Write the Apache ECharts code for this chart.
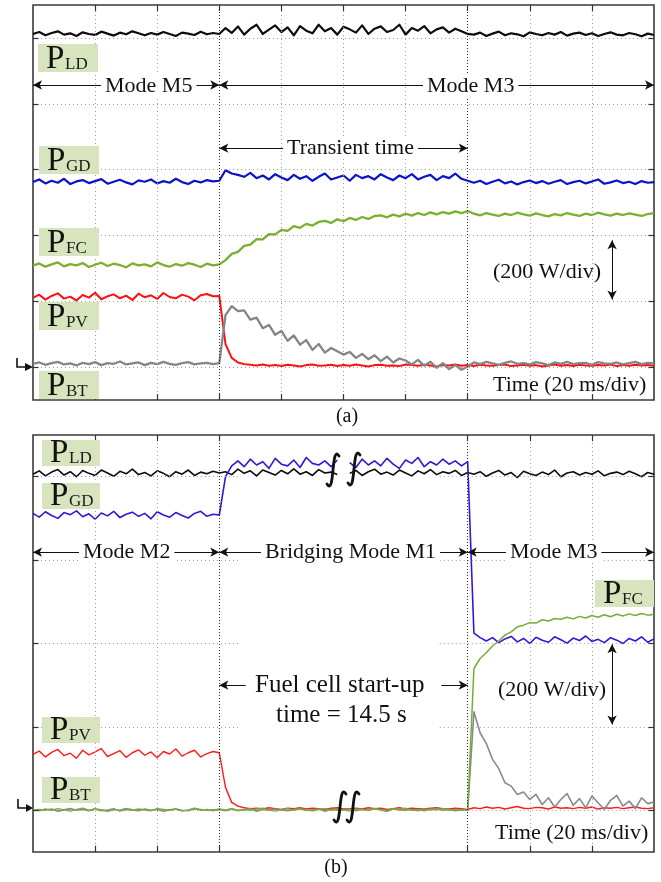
<!DOCTYPE html>
<html><head><meta charset="utf-8">
<script src="https://cdn.jsdelivr.net/npm/echarts@6/dist/echarts.min.js"></script>
<style>html,body{margin:0;padding:0;background:#fff}#c{width:661px;height:882px}</style>
</head><body><div id="c"></div>
<script>
// ---------- sample times (ms, display scale; 20 ms/div) ----------
const timeA = Array.from({length: 101}, (_, i) => i * 2);
const timeB = Array.from({length: 101}, (_, i) => i * 2);

// ---------- Panel (a) : Mode M5 -> Mode M3 (W) ----------
const pLdA = [1012,1018,1008,1015,1020,1010,1014,1006,1017,1012,1009,1019,1013,1007,1016,1011,1020,1014,1008,1015,1010,1018,1012,1006,1016,1013,1009,1019,1011,1015,
  1012,
  1030,1015,1035,1010,1028,1040,1012,1025,1038,1018,1032,1008,1036,1022,1014,1040,1020,1030,1010,1034,1026,1016,1038,1012,1028,1035,1018,1024,1040,1010,1030,1022,1036,1014,1026,1032,1016,1028,1020,1012,
  1010,1016,1006,1013,1019,1008,1014,1011,1005,1017,1012,1008,1015,1010,1018,1007,1013,1016,1009,1014,1006,1012,1017,1010,1008,1015,1011,1005,1013,1009];
const pGdA = [562,570,558,566,560,572,556,564,568,559,565,571,557,563,569,561,555,567,563,570,558,565,560,572,562,556,566,561,568,564,
  566,
  598,588,584,578,590,574,582,570,586,576,568,584,572,580,566,578,588,570,576,582,566,584,574,580,570,586,576,568,582,574,586,570,578,584,568,580,574,588,572,566,
  560,566,556,563,569,558,564,555,562,567,559,565,557,563,568,556,562,566,558,564,570,557,561,567,559,563,556,565,560,562];
const pFcA = [308,315,305,312,318,306,313,309,316,304,311,317,307,314,310,303,315,309,312,306,318,310,305,313,308,316,311,304,314,309,
  312,
  325,344,350,368,372,389,388,404,403,417,414,428,423,435,430,441,444,438,449,443,453,447,456,450,459,461,455,463,458,466,460,468,462,470,464,471,466,473,468,474,
  466,461,468,463,459,466,462,469,464,460,467,462,458,465,461,468,463,459,466,462,469,464,460,466,462,467,463,459,465,468];
const pPvA = [210,220,205,216,224,208,214,202,219,211,226,206,215,221,209,217,204,223,212,218,207,225,213,209,220,214,203,218,222,215,
  216,
  70,28,14,9,7,
  5,8,4,6,3,7,5,2,6,8,4,5,7,3,6,4,8,5,2,6,7,4,5,3,8,6,4,7,5,2,6,5,8,4,6,3,7,5,4,6,8,3,5,7,4,6,2,5,8,4,6,3,7,5,4,6,5,8,3,6,4,7,5,6,4];
const pBtA = [10,14,7,12,16,8,11,5,13,9,15,6,12,10,17,8,11,14,6,13,9,16,10,7,12,15,8,11,13,9,
  12,
  158,185,170,172,144,150,118,128,98,110,80,96,68,82,52,70,44,58,48,38,46,28,40,24,36,18,32,14,26,20,8,22,4,16,-2,12,-6,6,-8,2,
  14,9,16,11,7,13,17,10,12,8,15,11,6,14,10,16,9,12,13,7,15,11,10,14,8,12,16,9,13,11];

// ---------- Panel (b) : Mode M2 -> Bridging M1 -> Mode M3 (W) ----------
const pLdB = [806,814,802,811,817,804,812,800,815,808,803,816,809,801,813,807,818,805,810,802,814,808,800,812,806,816,803,811,807,813,
  809,
  812,805,818,808,814,802,816,810,804,815,807,819,806,812,803,817,809,811,805,
  null,
  808,815,803,812,818,806,811,804,816,809,802,814,807,817,805,812,808,815,803,810,
  806,812,801,809,815,804,810,798,813,807,803,811,805,816,800,809,812,804,810,806,814,802,808,811,805,813,807,800,810,806];
const pGdB = [712,703,716,707,700,714,709,718,704,711,698,713,706,717,702,710,715,705,712,699,716,708,703,714,707,701,712,717,705,710,
  708,
  800,826,
  838,824,842,828,836,820,844,830,826,840,822,846,832,828,838,824,840,
  null,
  834,822,842,828,838,826,844,830,820,840,832,846,824,836,828,842,830,838,826,836,
  425,414,
  406,414,402,411,417,404,412,400,415,408,403,416,409,401,413,407,418,405,410,402,414,408,400,412,406,416,403,411];
const pFcB = [2,-1,3,0,4,1,-2,2,5,0,3,-1,1,4,-2,2,0,3,1,-1,4,2,0,3,-2,1,5,0,2,-1,
  3,1,4,-1,2,0,3,5,1,-2,2,4,0,3,1,-1,2,4,0,3,
  1,-2,3,2,0,4,1,-1,3,2,5,0,2,-1,3,1,4,0,2,1,
  2,
  340,364,378,394,406,420,428,440,444,450,449,457,454,460,458,463,459,465,461,467,463,469,464,470,466,471,467,472,468,470];
const pPvB = [134,142,128,139,146,131,137,125,144,133,140,148,129,136,143,127,138,145,132,140,126,141,135,147,130,138,144,128,136,141,
  138,
  55,19,10,6,
  4,5,3,6,4,2,5,4,6,3,5,4,2,5,6,3,4,5,3,6,4,5,2,4,6,3,5,4,3,5,6,4,3,5,4,2,
  6,4,8,5,7,3,6,9,5,4,7,6,3,8,5,6,4,7,5,8,3,6,5,7,4,6,8,5,4,6];
const pBtB = [-1,2,0,3,-2,1,4,0,2,-1,3,1,-2,2,0,4,1,-1,3,0,2,-2,1,3,0,-1,4,2,0,1,
  2,-1,3,0,1,4,-2,2,0,3,1,-1,2,4,0,1,3,-2,2,0,
  1,3,-1,2,0,4,1,-2,3,1,0,2,-1,3,1,4,0,2,-1,1,
  0,
  236,186,160,122,100,66,58,38,44,26,38,14,30,8,26,40,12,28,6,34,18,2,24,36,10,22,4,30,16,20];

// ---------- grid / tick values ----------
const gridTimesA = [20,40,80,100,120,160,180];
const modeTimesA = [60,140];
const gridPowA = [0,200,400,600,800,1000];
const gridTimesB = [20,40,160,180];
const modeTimesB = [60,140];
const gridPowB = [0,200,400,600,800];

const SERIF = "'Liberation Serif','Times New Roman',serif";

function trace(t, v, color, width, idx, z) {
  return {type:'line', xAxisIndex: idx, yAxisIndex: idx, data: t.map((x,i)=>[x, v[i]]),
    showSymbol:false, symbol:'none', connectNulls:false, silent:true, z: z,
    lineStyle:{color: color, width: width, join:'round'}};
}
function decor(idx, items, style, symbol, symbolSize, z) {
  return {type:'line', xAxisIndex: idx, yAxisIndex: idx, data: [], silent: true, z: z || 1,
    markLine: {silent:true, animation:false, symbol: symbol || 'none', symbolSize: symbolSize || 8,
      label:{show:false}, lineStyle: style, emphasis:{disabled:true}, data: items}};
}

// ticks on the borders
function ticksFor(xs, ys, xMin, xMax, yMin, yMax, dx, dy) {
  const out = [];
  xs.forEach(x => { out.push([{coord:[x,yMax]},{coord:[x,yMax-dy]}]); out.push([{coord:[x,yMin]},{coord:[x,yMin+dy]}]); });
  ys.forEach(y => { out.push([{coord:[xMin,y]},{coord:[xMin+dx,y]}]); out.push([{coord:[xMax,y]},{coord:[xMax-dx,y]}]); });
  return out;
}

const lightGrid = {color:'#9c9c9c', width:1, type:[1,3]};
const darkGrid = {color:'#2a2a2a', width:1, type:[1,2]};
const tickStyle = {color:'#333', width:1.2, type:'solid'};
const arrowStyle = {color:'#111', width:1, type:'solid'};

const series = [
  // panel a decorations
  decor(0, gridTimesA.map(x=>({xAxis:x})), lightGrid),
  decor(0, gridPowA.map(y=>({yAxis:y})), lightGrid),
  decor(0, modeTimesA.map(x=>({xAxis:x})), darkGrid),
  decor(0, ticksFor(gridTimesA.concat(modeTimesA), gridPowA, 0, 200, -100, 1100, 1.8, 18), tickStyle),
  decor(0, [
    [{coord:[0,857]},{coord:[60,857]}],
    [{coord:[60,857]},{coord:[200,857]}],
    [{coord:[60,665]},{coord:[140,665]}],
    [{coord:[186.5,385]},{coord:[186.5,205]}]
  ], arrowStyle, ['arrow','arrow'], [7,9], 5),
  // panel a traces
  trace(timeA, pLdA, '#0d0d0d', 2.2, 0, 3),
  trace(timeA, pGdA, '#0c14c8', 2.2, 0, 3),
  trace(timeA, pFcA, '#78b030', 2.3, 0, 3),
  trace(timeA, pPvA, '#ff1010', 2.0, 0, 3),
  trace(timeA, pBtA, '#858585', 2.3, 0, 3),

  // panel b decorations
  decor(1, gridTimesB.map(x=>({xAxis:x})), lightGrid),
  decor(1, [].concat(...gridPowB.map(y=>[[{coord:[0,y]},{coord:[66,y]}],[{coord:[131,y]},{coord:[200,y]}]])), lightGrid),
  decor(1, modeTimesB.map(x=>({xAxis:x})), darkGrid),
  decor(1, ticksFor(gridTimesB.concat(modeTimesB), gridPowB, 0, 200, -100, 900, 1.8, 15), tickStyle),
  decor(1, [
    [{coord:[0,619]},{coord:[60,619]}],
    [{coord:[60,619]},{coord:[140,619]}],
    [{coord:[140,619]},{coord:[200,619]}],
    [{coord:[186.5,398]},{coord:[186.5,206]}]
  ], arrowStyle, ['arrow','arrow'], [7,9], 5),
  decor(1, [
    [{coord:[68.5,300]},{coord:[60,300]}],
    [{coord:[131.5,300]},{coord:[140,300]}]
  ], arrowStyle, ['none','arrow'], [7,9], 5),
  // panel b traces
  trace(timeB, pLdB, '#0d0d0d', 1.6, 1, 3),
  trace(timeB, pGdB, '#3a14d6', 1.6, 1, 3),
  trace(timeB, pPvB, '#ff1a1a', 1.4, 1, 3),
  trace(timeB, pBtB, '#8a8a8a', 1.6, 1, 3),
  trace(timeB, pFcB, '#74ae34', 1.5, 1, 3)
];

// ---------- annotations (graphic) ----------
const g = [];
function txt(s, x, y, size, bg, align) {
  g.push({type:'text', x: x, y: y, z: 100,
    style:{text: s, font: size + 'px ' + SERIF, fill:'#111', align: align || 'left', verticalAlign:'middle',
      backgroundColor: bg ? '#fff' : null, padding: bg ? [0,4] : 0}});
}
function tag(x, y, w, h, sub) {
  const base = y + h - 2;
  g.push({type:'rect', x: x, y: y, z: 90, shape:{width:w, height:h}, style:{fill:'#d7e4bd'}});
  g.push({type:'text', x: x + 8, y: base - 11, z: 91, style:{text:'P', font:'33px ' + SERIF, fill:'#111', verticalAlign:'middle'}});
  g.push({type:'text', x: x + 27, y: base - 5.6, z: 91, style:{text: sub, font:'17px ' + SERIF, fill:'#1a1a1a', verticalAlign:'middle'}});
}
function ground(x, y) {
  g.push({type:'polyline', z: 100, shape:{points:[[x, y-9],[x, y],[x+10, y]]}, style:{stroke:'#111', lineWidth:1.6, fill:null}});
  g.push({type:'polygon', z: 100, shape:{points:[[x+8, y-4],[33, y],[x+8, y+4]]}, style:{fill:'#111'}});
}
function squiggle(cx, cy, H) {
  g.push({type:'bezierCurve', z: 100, shape:{x1: cx+6, y1: cy-H/2+4, cpx1: cx-2, cpy1: cy-H/2-9, cpx2: cx+2, cpy2: cy+H/2+9, x2: cx-6, y2: cy+H/2-4},
    style:{stroke:'#111', lineWidth:2.8, fill:null, lineCap:'round'}});
}
// panel a
tag(38, 44, 60, 28, 'LD');
tag(39, 146, 60, 28, 'GD');
tag(39, 228, 60, 28, 'FC');
tag(39, 302, 60, 28, 'PV');
tag(39, 371, 60, 28, 'BT');
txt('Mode M5', 101, 86, 22, true);
txt('Mode M3', 423, 86, 22, true);
txt('Transient time', 283, 148, 22, true);
txt('(200 W/div)', 493, 272, 22, false);
txt('Time (20 ms/div)', 493, 385, 22, false);
ground(17, 367);
txt('(a)', 347, 417, 20, false, 'center');
// panel b
tag(42, 440, 58, 26, 'LD');
tag(42, 483, 58, 26, 'GD');
tag(595, 580, 59, 27, 'FC');
tag(42, 717, 58, 26, 'PV');
tag(42, 777, 58, 26, 'BT');
txt('Mode M2', 79, 552, 22, true);
txt('Bridging Mode M1', 261, 552, 22, true);
txt('Mode M3', 506, 552, 22, true);
txt('Fuel cell start-up', 255, 685, 25, false);
txt('time = 14.5 s', 276, 715, 25, false);
txt('(200 W/div)', 498, 690, 22, false);
txt('Time (20 ms/div)', 495, 833, 22, false);
ground(18, 808);
txt('(b)', 336, 868, 20, false, 'center');
squiggle(333, 470, 36);
squiggle(354, 469, 36);
squiggle(340, 807, 34);
squiggle(353, 807, 34);

const option = {
  animation: false,
  backgroundColor: '#fff',
  grid: [
    {left:33, top:5, width:621, height:395, show:true, borderColor:'#3a3a3a', borderWidth:1.6, backgroundColor:'#fff'},
    {left:33, top:435, width:621, height:417, show:true, borderColor:'#3a3a3a', borderWidth:1.6, backgroundColor:'#fff'}
  ],
  xAxis: [
    {gridIndex:0, type:'value', min:0, max:200, show:false},
    {gridIndex:1, type:'value', min:0, max:200, show:false}
  ],
  yAxis: [
    {gridIndex:0, type:'value', min:-100, max:1100, show:false},
    {gridIndex:1, type:'value', min:-100, max:900, show:false}
  ],
  series: series,
  graphic: g
};
const chart = echarts.init(document.getElementById('c'), null, {renderer:'canvas'});
chart.setOption(option);
</script>
</body></html>
